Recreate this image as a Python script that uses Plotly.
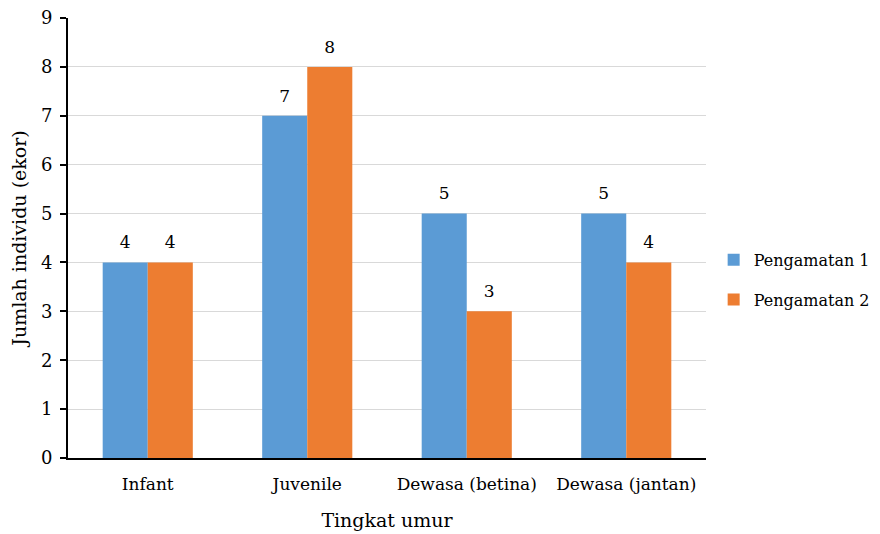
import plotly.graph_objects as go

categories = ["Infant", "Juvenile", "Dewasa (betina)", "Dewasa (jantan)"]
pengamatan1 = [4, 7, 5, 5]
pengamatan2 = [4, 8, 3, 4]
series_names = ["Pengamatan 1", "Pengamatan 2"]
colors = ["#5B9BD5", "#ED7D31"]

FONT = "DejaVu Serif"

fig = go.Figure()
for i, (name, vals, col) in enumerate(zip(series_names, [pengamatan1, pengamatan2], colors)):
    fig.add_trace(go.Bar(
        x=categories, y=vals, name=name, marker_color=col, marker_line_width=0,
        legendgroup=f"g{i}",
        text=[f"<span style='font-size:17px'>{v}</span><br> " for v in vals],
        textposition="outside",
        textfont=dict(family=FONT, size=7, color="#000"), cliponaxis=False,
    ))

fig.update_layout(
    width=880, height=534,
    margin=dict(l=68, r=174, t=18, b=76, autoexpand=False),
    paper_bgcolor="white", plot_bgcolor="white",
    barmode="group", bargap=0.435, bargroupgap=0,
    font=dict(family=FONT, size=17, color="#000"),
    showlegend=True,
    legend=dict(x=1.012, y=0.405, xanchor="left", yanchor="middle",
                font=dict(family=FONT, size=16, color="#000"),
                itemwidth=30, tracegroupgap=16),
    xaxis=dict(
        title=dict(text="Tingkat umur", font=dict(family=FONT, size=19), standoff=20),
        automargin=False,
        showline=True, linecolor="#000", linewidth=2, ticks="",
        ticklabelstandoff=10,
        tickfont=dict(family=FONT, size=17), showgrid=False,
    ),
    yaxis=dict(
        title=dict(text="Jumlah individu (ekor)", font=dict(family=FONT, size=19), standoff=9),
        automargin=False,
        range=[0, 9], dtick=1, showline=True, linecolor="#000", linewidth=2,
        ticks="outside", ticklen=6, tickcolor="#000", tickwidth=1.5,
        ticklabelstandoff=4,
        showgrid=True, gridcolor="#D9D9D9", gridwidth=1,
        tickfont=dict(family=FONT, size=18), zeroline=False,
    ),
)

fig.write_html("out.html", config={"displayModeBar": False},
               post_script="document.body.style.margin='0';")
